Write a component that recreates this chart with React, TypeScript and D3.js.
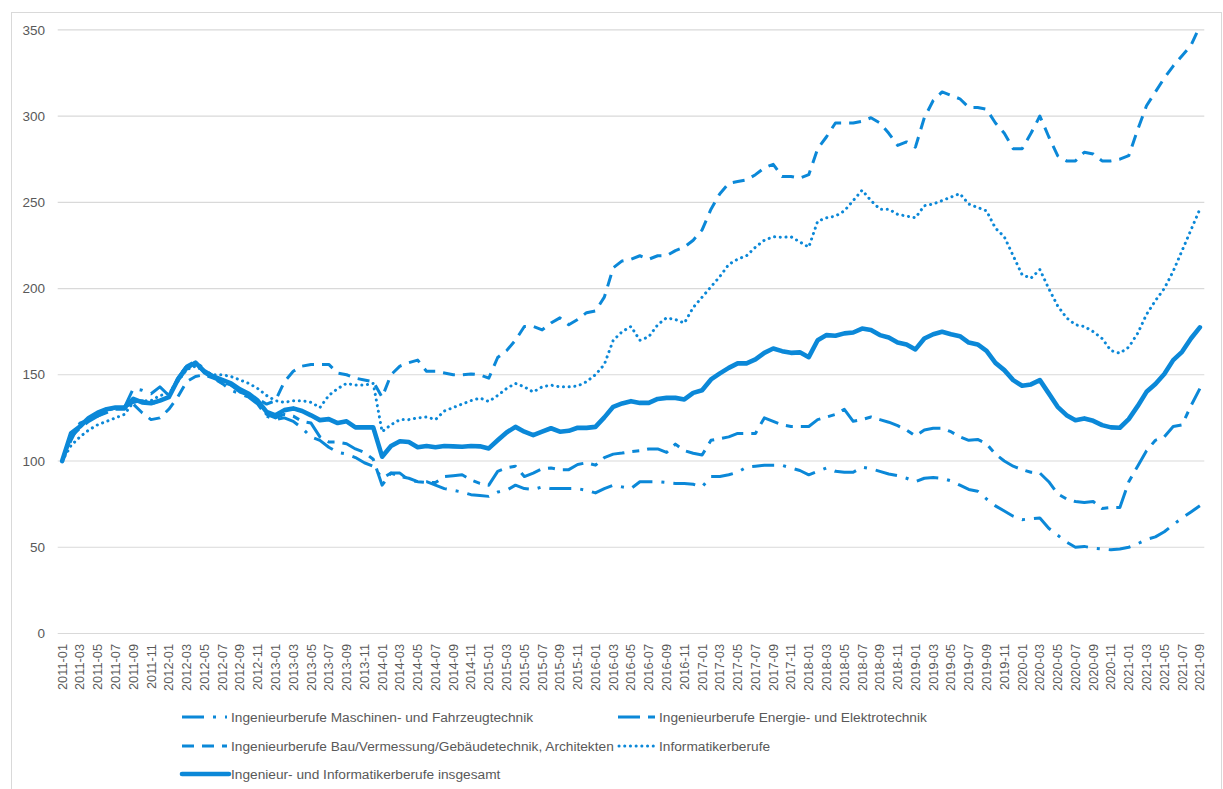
import React from 'react';
import * as d3 from 'd3';

// Categories: monthly, 2011-01 .. 2021-09
const months: string[] = d3
  .timeMonths(new Date(2011, 0, 1), new Date(2021, 9, 1))
  .map(d3.timeFormat('%Y-%m'));

const seriesNames = [
  'Ingenieurberufe Maschinen- und Fahrzeugtechnik',
  'Ingenieurberufe Energie- und Elektrotechnik',
  'Ingenieurberufe Bau/Vermessung/Gebäudetechnik, Architekten',
  'Informatikerberufe',
  'Ingenieur- und Informatikerberufe insgesamt',
];

const maschinen = [
  100, 115, 121, 124, 127, 129, 131, 131, 142, 141,
  139, 143, 138, 148, 155, 158, 153, 149, 145, 141,
  139, 137, 133, 126, 124, 125, 123, 119, 114, 112,
  108, 105, 104, 102, 99, 97, 90, 93, 93, 89,
  88, 88, 86, 84, 83, 82, 80.5, 80, 79.5, 82,
  83, 86, 84, 83.5, 85, 84, 84, 84, 84, 83,
  81.5, 84, 86, 85, 84, 88, 88, 88, 87.5, 87,
  87, 86.5, 85, 91, 91, 92, 93.5, 96.5, 97, 97.5,
  97.5, 97.5, 96, 94.5, 92, 94, 96, 94, 93.5, 93.5,
  96.5, 95.5, 94, 92.5, 91.5, 90, 88, 90, 90.5, 90,
  88.5, 86, 83.5, 82.5, 78, 74, 71, 68, 66, 66.5,
  67, 61, 57, 53, 50, 50.5, 49.5, 49, 48.5, 49,
  50, 52, 54.5, 56, 59, 63, 67, 70.5, 74,
];

const energie = [
  100, 114, 119, 123, 126, 129, 131, 131, 134, 135,
  133, 135, 137, 148, 155, 157, 151, 148, 145, 144,
  140, 138, 134, 127, 125, 127, 126, 123, 122, 114,
  111, 111, 110, 107, 105, 101, 86, 93, 91, 90,
  88, 87.5, 87.5, 91, 91.5, 92, 89, 87, 86, 94,
  96, 97, 91, 93, 95.5, 96, 95, 95, 98, 99,
  97.6, 102, 104, 104.6, 105.5, 106, 107, 107, 105, 109.8,
  106, 104.5, 103.5, 112, 113, 114, 116, 116, 116, 125,
  123, 121, 120, 120, 120, 124, 125.5, 127, 130, 123,
  124, 125.5, 124, 122.5, 120.5, 118, 114.5, 118, 119, 119,
  117, 114, 112, 112.5, 110, 104, 100, 97, 95, 93.5,
  93, 88, 81, 78, 76.5, 76, 76.5, 72.5, 73, 73,
  88, 97, 106, 112, 114, 120, 121, 132, 142,
];

const bau = [
  100, 112, 122, 124, 126, 128, 130, 130, 133, 128,
  124, 125, 130, 137, 146, 149, 150, 148, 146, 144,
  141, 138, 136, 133, 135, 146, 152, 155, 156, 156,
  156, 151, 150, 148, 147, 146, 137, 150, 155, 157,
  158.5, 152, 152, 151, 150, 150, 150.5, 150, 148, 160,
  164, 170, 178, 178, 176, 180, 183, 179, 182, 186,
  187, 195, 212, 216, 217, 219, 217, 219, 219, 222,
  224, 228, 234, 246, 255, 261, 262, 263, 266, 270,
  272, 265, 265, 264, 266, 281, 288, 296, 296, 296,
  297, 299, 296, 290, 283, 285, 282, 299, 309, 314,
  312, 310, 305, 305, 304, 296, 290, 281, 281, 290,
  300, 288, 277, 274, 274, 279, 278, 274, 274, 275,
  277, 292, 306, 314, 322, 329, 335, 341, 352,
];

const informatik = [
  100, 109, 114, 118, 121, 123, 125, 127, 134, 135,
  135, 138, 139, 146, 153, 155, 152, 150, 150, 149,
  147, 145, 142, 138, 135, 134, 135, 135, 134, 131,
  138, 142, 145, 144, 144, 145, 117, 121, 124, 124,
  125, 125.5, 124, 129, 131, 133, 135, 136.5, 134.5, 138,
  142, 145, 143, 140, 143, 144, 143, 143, 143.5, 146,
  150, 156, 170, 175, 178, 170, 172, 179, 183, 182,
  180, 189, 195, 201, 207, 214, 217, 219, 224, 228,
  230, 229.7, 230, 227, 224, 239, 241, 242, 245, 251,
  257, 251, 246, 246, 243, 242, 241, 248, 249, 251,
  253, 255, 249, 247, 245, 235, 230, 219, 208, 206,
  211, 200, 190, 183, 179, 178, 175, 171, 164, 162.5,
  166, 174, 185, 193, 200, 210, 222, 234, 246,
];

const insgesamt = [
  100, 116, 120, 125, 128, 130, 131, 131, 136, 134,
  133.5, 135, 137, 147, 154, 157, 152, 149, 147, 145,
  141.5, 139, 135, 128.5, 126.5, 129.5, 130.5, 129, 126.5, 123.7,
  124.3, 122, 123, 119.5, 119.5, 119.5, 102.5, 108.7, 111.5, 111,
  108, 108.7, 108, 108.7, 108.5, 108.3, 108.7, 108.5, 107.3, 112,
  116.5, 119.8, 117, 115, 117, 119, 117, 117.5, 119.3, 119.2,
  119.8, 125.3, 131.4, 133.4, 134.7, 133.7, 133.7, 136, 136.6, 136.6,
  135.7, 139.5, 141, 147.3, 150.8, 154, 156.6, 156.6, 158.9, 162.7,
  165.2, 163.7, 162.7, 163, 160.2, 170, 173, 172.6, 174, 174.5,
  176.8, 175.9, 173, 171.6, 168.7, 167.6, 164.7, 171, 173.5, 174.9,
  173.5, 172.4, 168.7, 167.6, 163.9, 156.9, 152.7, 146.9, 143.6, 144.4,
  146.9, 139.2, 131.4, 126.6, 123.7, 124.7, 123.3, 120.8, 119.5, 119.3,
  124.3, 131.8, 140.1, 144.6, 150.4, 158.5, 163.3, 171, 177.5,
];

const yTickValues = [0, 50, 100, 150, 200, 250, 300, 350];

const BLUE = '#0b88d8';
const GRID = '#d9d9d9';
const TEXT = '#595959';
const FONT = '"Liberation Sans", Arial, sans-serif';

const styles = [
  { dash: '22 9 3 9', width: 3, cap: 'butt' },
  { dash: '22 8 7 8', width: 3, cap: 'butt' },
  { dash: '12 8', width: 3, cap: 'butt' },
  { dash: '0.1 5.6', width: 3, cap: 'round' },
  { dash: 'none', width: 4.6, cap: 'round' },
];

const allValues = [maschinen, energie, bau, informatik, insgesamt];

export default function App() {
  const W = 1223;
  const H = 789;
  const x = d3.scaleBand<string>().domain(months).range([57.7, 1204.3]);
  const cx = (m: string) => (x(m) as number) + x.bandwidth() / 2;
  const y = d3.scaleLinear().domain([0, 350]).range([633.5, 29.8]);

  const line = d3
    .line<number>()
    .x((_, i) => cx(months[i]))
    .y((v) => y(v));

  const legendPos = [
    { lx0: 182, lx1: 227, tx: 231, ty: 717 },
    { lx0: 618, lx1: 655, tx: 659, ty: 717 },
    { lx0: 182, lx1: 227, tx: 231, ty: 746 },
    { lx0: 619, lx1: 655, tx: 659, ty: 746 },
    { lx0: 182, lx1: 229, tx: 231, ty: 774 },
  ];

  return (
    <svg
      width={W}
      height={H}
      style={{ position: 'absolute', left: 0, top: 0, background: '#fff' }}
      fontFamily={FONT}
    >
      <rect x={11.5} y={12.5} width={1210} height={800} fill="#fff" stroke={GRID} strokeWidth={1} />
      {yTickValues.map((t) => (
        <g key={t}>
          <line x1={57.7} x2={1204.3} y1={y(t)} y2={y(t)} stroke={GRID} strokeWidth={1.2} />
          <text x={45} y={y(t)} dy="0.35em" textAnchor="end" fontSize={13.5} fill={TEXT}>
            {t}
          </text>
        </g>
      ))}
      {months.map((m, i) =>
        i % 2 === 0 ? (
          <text
            key={m}
            transform={`translate(${cx(m)},644) rotate(-90)`}
            dy="0.35em"
            textAnchor="end"
            fontSize={12.8}
            fill={TEXT}
          >
            {m}
          </text>
        ) : null
      )}
      {allValues.map((vals, k) => (
        <path
          key={k}
          d={line(vals) as string}
          fill="none"
          stroke={BLUE}
          strokeWidth={styles[k].width}
          strokeDasharray={styles[k].dash}
          strokeLinecap={styles[k].cap as any}
          strokeLinejoin="round"
        />
      ))}
      {seriesNames.map((name, k) => {
        const p = legendPos[k];
        return (
          <g key={name}>
            <line
              x1={p.lx0}
              x2={p.lx1}
              y1={p.ty}
              y2={p.ty}
              stroke={BLUE}
              strokeWidth={styles[k].width}
              strokeDasharray={styles[k].dash}
              strokeLinecap={styles[k].cap as any}
            />
            <text x={p.tx} y={p.ty} dy="0.35em" fontSize={13.7} fill={TEXT}>
              {name}
            </text>
          </g>
        );
      })}
    </svg>
  );
}
